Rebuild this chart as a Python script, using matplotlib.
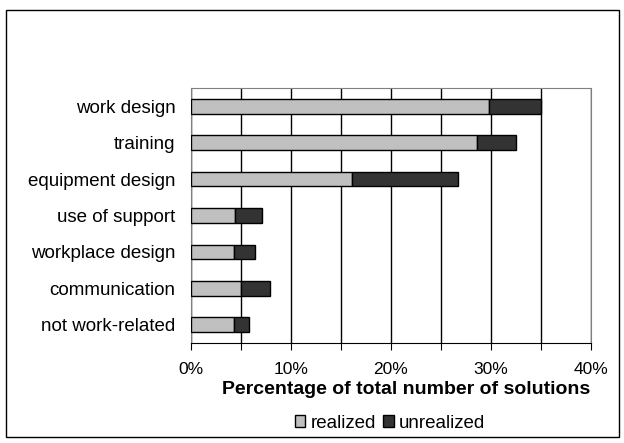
import matplotlib
matplotlib.use("Agg")
import matplotlib.pyplot as plt
from matplotlib.patches import Rectangle
import numpy as np

plt.rcParams['font.family'] = ['Liberation Sans', 'DejaVu Sans']

categories = ['work design', 'training', 'equipment design', 'use of support',
              'workplace design', 'communication', 'not work-related']
realized = [29.8, 28.6, 16.1, 4.4, 4.3, 5.0, 4.3]
unrealized = [5.2, 3.9, 10.6, 2.7, 2.1, 2.9, 1.5]
xticks = [0, 10, 20, 30, 40]
xticklabels = ['0%', '10%', '20%', '30%', '40%']

fig = plt.figure(figsize=(6.24, 4.43), dpi=100)
ax = fig.add_axes([0.306, 0.226, 0.641, 0.575])

y = np.arange(len(categories))[::-1]
ax.barh(y, realized, height=0.4, color='#c0c0c0', edgecolor='black',
        linewidth=1, label='realized', zorder=3)
ax.barh(y, unrealized, left=realized, height=0.4, color='#333333',
        edgecolor='black', linewidth=1, label='unrealized', zorder=3)

ax.set_xlim(0, 40)
ax.set_ylim(-0.5, 6.5)
ax.set_xticks(np.arange(0, 41, 5))
ax.set_xticklabels(['' if t not in xticks else xticklabels[xticks.index(t)]
                    for t in range(0, 41, 5)], fontsize=12.5)
ax.set_yticks(y)
ax.set_yticklabels(categories, fontsize=13.5)
ax.tick_params(axis='y', length=0, pad=11)
ax.tick_params(axis='x', length=5, direction='out', pad=9, color='black')
ax.xaxis.grid(True, color='black', linewidth=1, zorder=0)
ax.set_axisbelow(True)
for side in ['top', 'right', 'left']:
    ax.spines[side].set_color('#808080')
ax.spines['bottom'].set_color('black')

ax.set_xlabel('Percentage of total number of solutions', fontsize=14,
              fontweight='bold')
ax.xaxis.set_label_coords(0.537, -0.148)

fig.legend(loc='center', bbox_to_anchor=(0.625, 0.045), ncol=2, frameon=False,
           fontsize=13.5, handlelength=0.55, handleheight=0.55, handletextpad=0.3,
           columnspacing=0.4)

fig.patches.append(Rectangle((6 / 624, 6 / 443), 613 / 624, 427 / 443,
                             transform=fig.transFigure, fill=False,
                             edgecolor='black', linewidth=1))

fig.savefig('out.png', dpi=100)
